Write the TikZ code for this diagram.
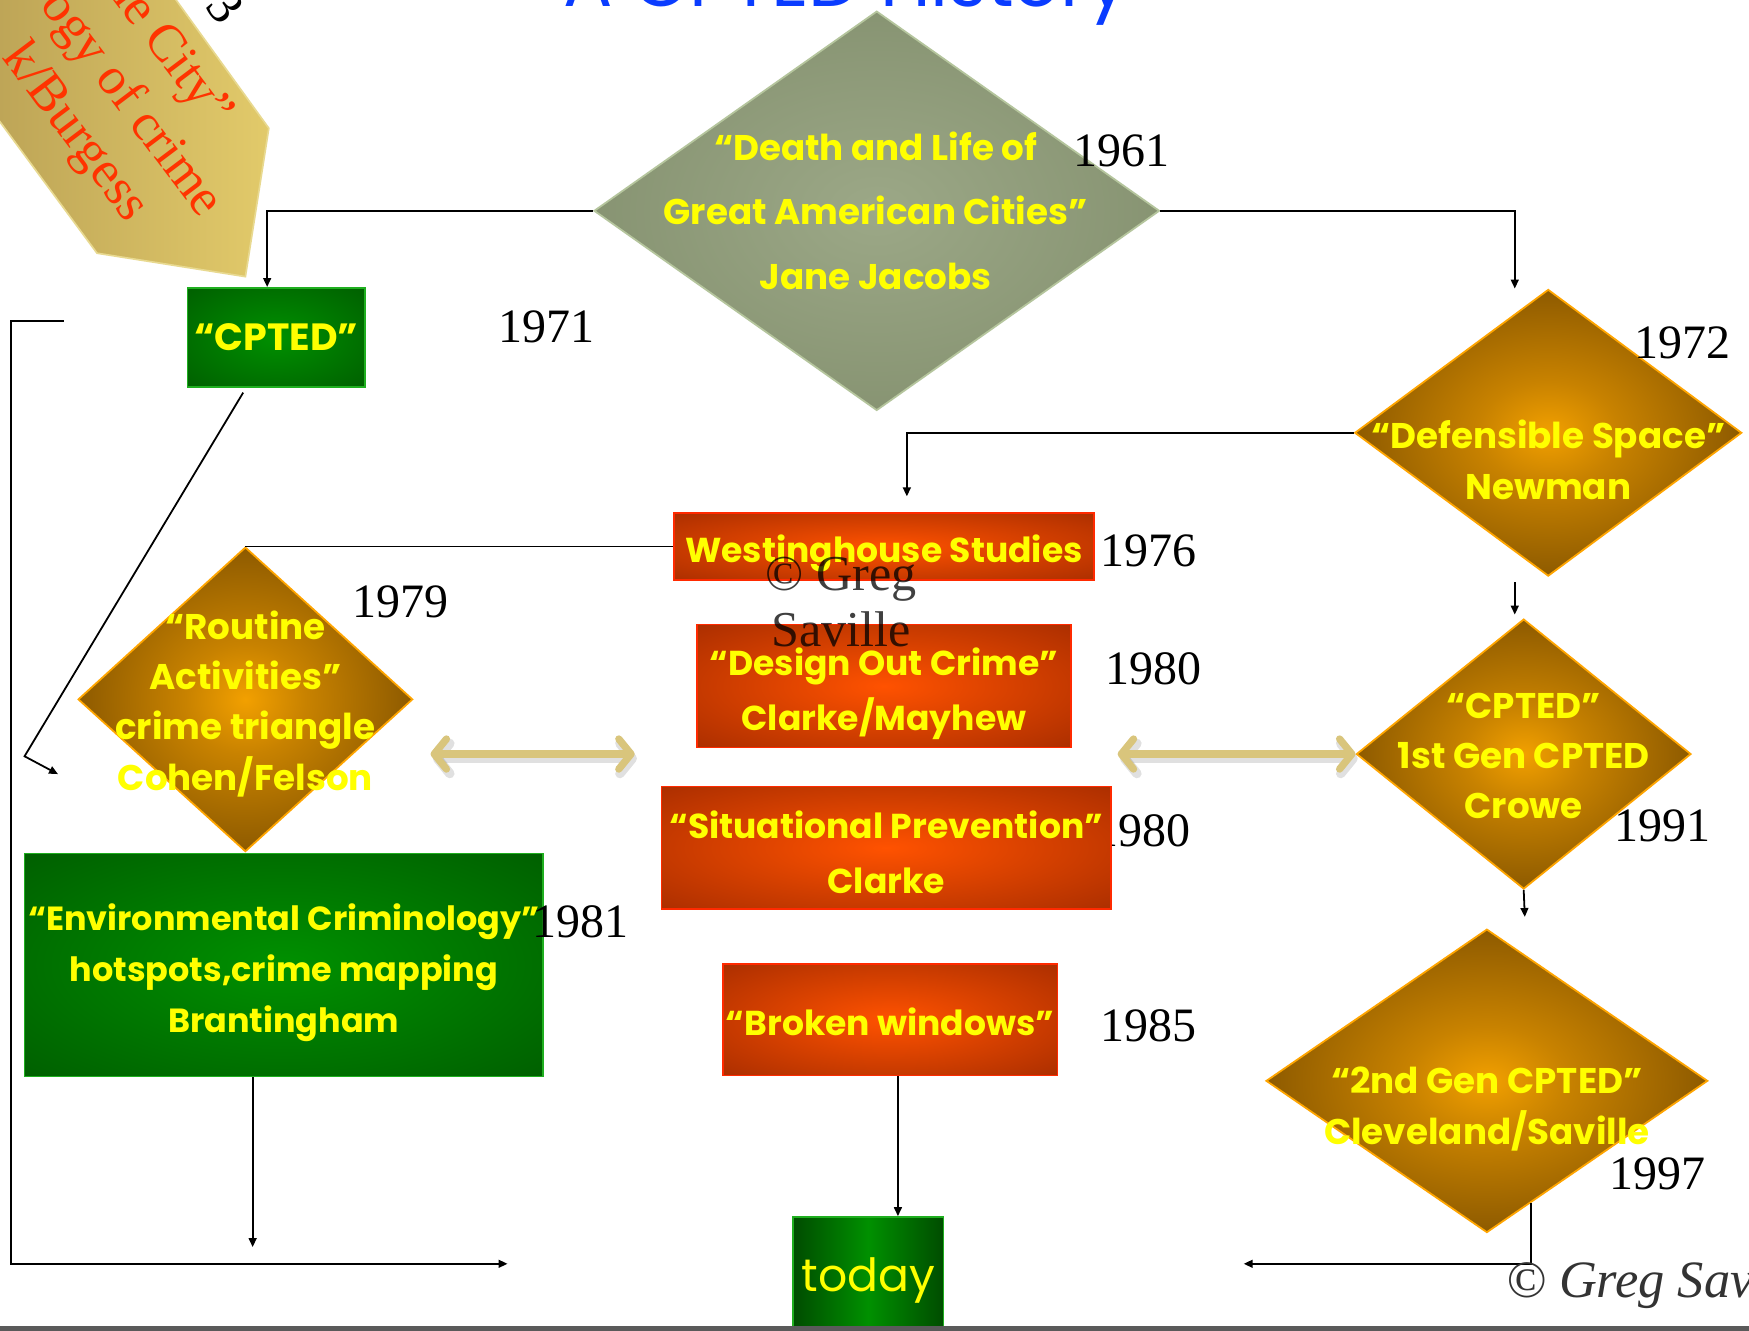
\documentclass[tikz,border=0pt]{standalone}
\usepackage{fontspec}
\usetikzlibrary{shapes.geometric,arrows.meta,calc}
\newfontfamily\comic{Poppins}
\newfontfamily\yearfont{Liberation Serif}
\definecolor{yelT}{HTML}{FFFF00}
\definecolor{goldC}{HTML}{F2A000}
\definecolor{goldM}{HTML}{C88200}
\definecolor{goldM2}{HTML}{8A5800}
\definecolor{goldE}{HTML}{3E2700}
\definecolor{goldB}{HTML}{FFA500}
\definecolor{oliveC}{HTML}{9CA887}
\definecolor{oliveE}{HTML}{73805E}
\definecolor{oliveB}{HTML}{B5C59D}
\definecolor{redC}{HTML}{FF5200}
\definecolor{redE}{HTML}{8A2000}
\definecolor{redB}{HTML}{FF2A00}
\definecolor{grnC}{HTML}{009000}
\definecolor{grnE}{HTML}{004C00}
\definecolor{grnB}{HTML}{1FAF1F}
\definecolor{tanC}{HTML}{D9C57C}
\definecolor{titleB}{HTML}{0A3CFF}
\definecolor{banRed}{HTML}{FF3300}
\definecolor{banL}{HTML}{E2CA6A}
\definecolor{banD}{HTML}{B59C52}
\definecolor{banB}{HTML}{E8D990}
\definecolor{cpGray}{HTML}{333333}
\definecolor{lineGray}{HTML}{5A5A5A}
\pgfdeclareradialshading{goldrad}{\pgfpoint{0bp}{0bp}}{color(0bp)=(goldC); color(9bp)=(goldM); color(26bp)=(goldM2); color(50bp)=(goldE)}
\pgfdeclareradialshading{oliverad}{\pgfpoint{0bp}{0bp}}{color(0bp)=(oliveC); color(50bp)=(oliveE)}
\pgfdeclareradialshading{redrad}{\pgfpoint{0bp}{0bp}}{color(0bp)=(redC); color(50bp)=(redE)}
\pgfdeclareradialshading{grnrad}{\pgfpoint{0bp}{0bp}}{color(0bp)=(grnC); color(50bp)=(grnE)}
\tikzset{
  conn/.style={draw=black, line width=1.6pt},
  arr/.style={conn, -{Triangle[length=8pt,width=7pt]}},
  yel/.style={text=yelT, font=\comic\bfseries\fontsize{31}{46}\selectfont, align=center, inner sep=0pt},
  yeartxt/.style={font=\yearfont\fontsize{43}{50}\selectfont, inner sep=0pt, text=black},
  bantxt/.style={font=\yearfont\fontsize{47}{50}\selectfont, inner sep=0pt, text=banRed, rotate=-53, anchor=base east},
  redbox/.style={rectangle, draw=redB, line width=1.4pt, shading=redrad, inner sep=0pt},
  grnbox/.style={rectangle, draw=grnB, line width=1.4pt, shading=grnrad, inner sep=0pt},
  golddia/.style={diamond, draw=goldB, line width=1.6pt, shading=goldrad, inner sep=0pt},
  olivedia/.style={diamond, draw=oliveB, line width=1.6pt, shading=oliverad, inner sep=0pt},
  tanarrow/.style={draw=tanC, line width=6.5pt, {Straight Barb[length=11pt,width=27pt,round]}-{Straight Barb[length=11pt,width=27pt,round]}},
  tanshadow/.style={draw=black, opacity=0.12, line width=8.5pt, {Straight Barb[length=11pt,width=27pt,round]}-{Straight Barb[length=11pt,width=27pt,round]}}
}
\begin{document}
\begin{tikzpicture}[x=1pt,y=-1pt]
\useasboundingbox (0,0) rectangle (1568,1193);
\clip (0,0) rectangle (1568,1193);
\fill[white] (0,0) rectangle (1568,1193);

% banner top-left
\path[draw=banB, line width=1.5pt, left color=banD, right color=banL]
  (100,-80) -- (241,115) -- (220,248) -- (87,227) -- (-60,28) -- cycle;
\node[bantxt] (b1) at (189,116) {he City”};
\node[bantxt] (b2) at (180,197) {ogy of crime};
\node[bantxt] (b3) at (114,201) {k/Burgess};
\node[font=\yearfont\fontsize{46}{50}\selectfont, rotate=-53, inner sep=0pt] (b0) at (202,6) {3};

% title
\node[anchor=base west, text=titleB, inner sep=0pt] (title) at (505,6) {\resizebox{507pt}{!}{\comic A CPTED History}};

% year partly hidden behind box
\node[yeartxt] (y1980b) at (1024,745) {1980};

% coordinates for free connector ends
\coordinate (lbS) at (57,288);
\coordinate (lbC) at (10,1133);
\coordinate (lbE) at (455,1133);
\coordinate (dA) at (218,352);
\coordinate (dB) at (22,678);
\coordinate (dC) at (52,694);
\coordinate (wArr) at (813,445);
\coordinate (nA) at (1358,522);
\coordinate (nB) at (1358,551);
\coordinate (cB) at (1367,822);
\coordinate (eB) at (226.5,1118);
\coordinate (rbEnd) at (1115,1133);
\coordinate (tL1) at (386,676);
\coordinate (tL2) at (569,676);
\coordinate (tR1) at (1002,676);

% shapes
\node[olivedia, minimum width=507pt, minimum height=358pt] (jacobs) at (786,189) {};
\node[grnbox, minimum width=159pt, minimum height=89pt] (cpted) at (247.5,302.5) {};
\node[golddia, minimum width=347pt, minimum height=257pt] (newman) at (1388,388) {};
\node[redbox, minimum width=377pt, minimum height=60pt] (westing) at (792.5,490) {};
\node[golddia, minimum width=300pt, minimum height=273pt] (routine) at (220,627) {};
\node[redbox, minimum width=335pt, minimum height=110pt] (design) at (792.5,615) {};
\node[redbox, minimum width=403pt, minimum height=110pt] (situ) at (794.5,760) {};
\node[grnbox, minimum width=465pt, minimum height=200pt] (env) at (254.5,865) {};
\node[redbox, minimum width=300pt, minimum height=100pt] (broken) at (798,914) {};
\node[rectangle, draw=grnB, line width=1.4pt, left color=grnE, right color=grnE, middle color=grnC, inner sep=0pt, minimum width=135pt, minimum height=104pt] (today) at (778.5,1143) {};
\node[golddia, minimum width=300pt, minimum height=242pt] (crowe) at (1366,676) {};
\node[golddia, minimum width=396pt, minimum height=272pt] (gen2) at (1333,969) {};

% texts
\node[yel, font=\comic\bfseries\fontsize{32}{58}\selectfont] (jacobsT) at (785,189) {“Death and Life of\\Great American Cities”\\Jane Jacobs};
\node[yel, font=\comic\bfseries\fontsize{34}{40}\selectfont] (cptedT) at (247.5,302.5) {“CPTED”};
\node[yel, font=\comic\bfseries\fontsize{32}{46}\selectfont] (newmanT) at (1388,412) {“Defensible Space”\\Newman};
\node[yel] (westingT) at (792.5,496) {Westinghouse Studies};
\node[yel, font=\comic\bfseries\fontsize{32}{45}\selectfont] (routineT) at (220,631) {“Routine\\Activities”\\crime triangle\\Cohen/Felson};
\node[yel, font=\comic\bfseries\fontsize{31}{50}\selectfont] (designT) at (792.5,622) {“Design Out Crime”\\Clarke/Mayhew};
\node[yel, font=\comic\bfseries\fontsize{31}{50}\selectfont] (situT) at (794.5,764) {“Situational Prevention”\\Clarke};
\node[yel, font=\comic\bfseries\fontsize{30}{46}\selectfont] (envT) at (254.5,872) {“Environmental Criminology”\\hotspots,crime mapping\\Brantingham};
\node[yel] (brokenT) at (798,916) {“Broken windows”};
\node[text=yelT, inner sep=0pt, font=\comic\fontsize{41}{46}\selectfont] (todayT) at (778.5,1148) {today};
\node[yel, font=\comic\bfseries\fontsize{32}{45}\selectfont] (croweT) at (1366,678) {“CPTED”\\1st Gen CPTED\\Crowe};
\node[yel, font=\comic\bfseries\fontsize{32}{46}\selectfont] (gen2T) at (1333,994) {“2nd Gen CPTED”\\Cleveland/Saville};

% connectors
\draw[arr] (jacobs.west) -| ([xshift=-8pt]cpted.north);
\draw[arr] (jacobs.east) -| ([xshift=-30pt]newman.north);
\draw[arr] (lbS) -| (lbC) -- (lbE);
\draw[arr] (dA) -- (dB) -- (dC);
\draw[arr] (newman.west) -| (wArr);
\draw[conn] (westing.west) -| (routine.north);
\draw[arr] (nA) -- (nB);
\draw[arr] (crowe.south) -- (cB);
\draw[arr] ([xshift=-28pt]env.south) -- (eB);
\draw[arr] ([xshift=7pt]broken.south) -- ([xshift=7pt]broken.south |- today.north);
\draw[arr] ($(gen2.south)!0.2!(gen2.east)$) |- (rbEnd);

% tan double arrows
\draw[tanshadow] ([xshift=2pt,yshift=-4pt]tL1) -- ([xshift=2pt,yshift=-4pt]tL2);
\draw[tanarrow] (tL1) -- (tL2);
\draw[tanshadow] ([xshift=2pt,yshift=-4pt]tR1) -- ([xshift=2pt,yshift=-4pt]crowe.west);
\draw[tanarrow] (tR1) -- (crowe.west);

% years
\node[yeartxt] (y1961) at (1005,135) {1961};
\node[yeartxt] (y1971) at (490,293) {1971};
\node[yeartxt] (y1972) at (1508,307) {1972};
\node[yeartxt] (y1976) at (1030,494) {1976};
\node[yeartxt] (y1979) at (359,540) {1979};
\node[yeartxt] (y1980) at (1034,600) {1980};
\node[yeartxt] (y1981) at (520,826) {1981};
\node[yeartxt] (y1985) at (1030,920) {1985};
\node[yeartxt] (y1991) at (1490,740) {1991};
\node[yeartxt] (y1997) at (1486,1052) {1997};

% watermark
\node[font=\yearfont\fontsize{45}{50}\selectfont, text=black, opacity=0.75, align=center, inner sep=0pt] (wm) at (754,540) {© Greg\\Saville};

% copyright
\node[anchor=base west, inner sep=0pt, text=cpGray] (copyr) at (1350,1163) {\resizebox{222pt}{!}{\yearfont\itshape © Greg Sav}};

% bottom line
\fill[lineGray] (0,1189) rectangle (1568,1193);
\end{tikzpicture}
\end{document}
